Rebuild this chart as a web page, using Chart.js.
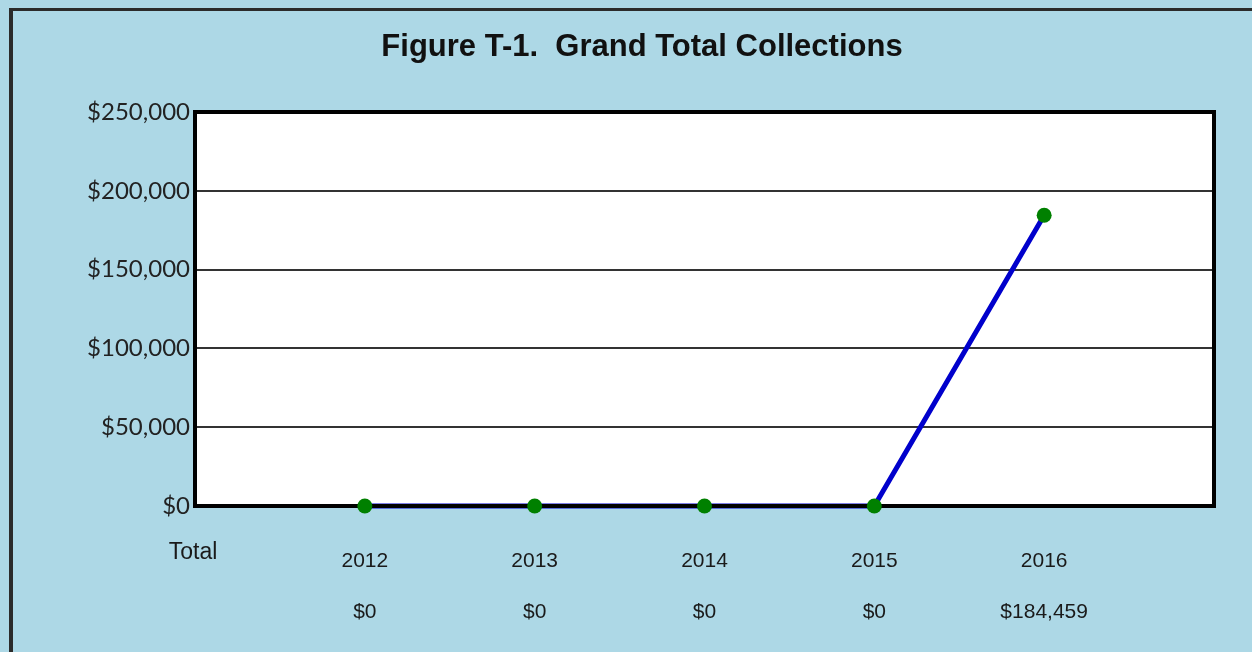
<!DOCTYPE html>
<html>
<head>
<meta charset="utf-8">
<script src="https://cdn.jsdelivr.net/npm/chart.js@4"></script>
<style>
  html, body { margin: 0; padding: 0; background: #add8e6; }
  body { width: 1252px; height: 652px; position: relative; overflow: hidden; }
  #moldura { position: absolute; left: 9px; top: 8px; width: 1300px; height: 700px;
             border-top: 3px solid #2b2b2b; border-left: 4px solid #2b2b2b; box-sizing: border-box; }
  #wrap { position: absolute; left: 0; top: 0; width: 1252px; height: 652px; }
</style>
</head>
<body>
<div id="moldura"></div>
<div id="wrap"><canvas id="grafico"></canvas></div>
<script>
// Dados do grafico
const TITULO = 'Figure T-1.  Grand Total Collections';
const anos = [2012, 2013, 2014, 2015, 2016];
const totais = [0, 0, 0, 0, 184459];
const rotuloLinha = 'Total';
const ticksY = [0, 50000, 100000, 150000, 200000, 250000];

const moeda = (v) => '$' + Number(v).toLocaleString('en-US');

const ARIAL = 'Arial, "Liberation Sans", Helvetica, sans-serif';
const cor = { linha: '#0000cc', ponto: '#008000', grelha: '#333333', texto: '#1a1a1a' };

// Moldura preta grossa a volta da area do grafico (desenhada depois da linha, antes dos pontos)
const molduraArea = {
  id: 'molduraArea',
  afterDatasetDraw(chart, args) {
    if (args.index !== 1) return;
    const { ctx, chartArea: a } = chart;
    ctx.save();
    ctx.strokeStyle = '#000';
    ctx.lineWidth = 4;
    ctx.strokeRect(a.left, a.top, a.right - a.left, a.bottom - a.top);
    ctx.restore();
  },
  beforeDraw(chart) {
    const { ctx, chartArea: a } = chart;
    ctx.save();
    ctx.fillStyle = '#fff';
    ctx.fillRect(a.left, a.top, a.right - a.left, a.bottom - a.top);
    ctx.restore();
  }
};

// Rotulo "Total" da linha de valores por baixo do eixo
const rotuloTotal = {
  id: 'rotuloTotal',
  afterDraw(chart) {
    const { ctx, scales } = chart;
    ctx.save();
    ctx.font = '23px ' + ARIAL;
    ctx.fillStyle = cor.texto;
    ctx.textAlign = 'center';
    ctx.textBaseline = 'middle';
    ctx.fillText(rotuloLinha, scales.x.getPixelForValue(anos[0] - 1) - 2, scales.x.bottom - 99);
    ctx.restore();
  }
};

function desenhar() {
  new Chart(document.getElementById('grafico'), {
    type: 'line',
    data: {
      datasets: [
        { // so os pontos (por cima da moldura)
          data: anos.map((a, i) => ({ x: a, y: totais[i] })),
          showLine: false, pointRadius: 7.5, pointBackgroundColor: cor.ponto,
          pointBorderWidth: 0, clip: false
        },
        { // so a linha
          data: anos.map((a, i) => ({ x: a, y: totais[i] })),
          borderColor: cor.linha, borderWidth: 5, pointRadius: 0, tension: 0, clip: false
        }
      ]
    },
    options: {
      responsive: true,
      maintainAspectRatio: false,
      animation: false,
      layout: { padding: { left: 32, right: 0, top: 0, bottom: 0 } },
      plugins: {
        legend: { display: false },
        tooltip: { enabled: false },
        title: {
          display: true, text: TITULO, color: '#111',
          font: { family: ARIAL, size: 31, weight: 'bold' },
          padding: { top: 28.5, bottom: 46.3 }
        }
      },
      scales: {
        x: {
          type: 'linear', min: anos[0] - 1, max: anos[anos.length - 1] + 1,
          grid: { display: false }, border: { display: false },
          afterBuildTicks: (s) => { s.ticks = anos.map(v => ({ value: v })); },
          ticks: {
            color: cor.texto, padding: 22, maxRotation: 0, autoSkip: false,
            font: { family: ARIAL, size: 21, lineHeight: '51px' },
            callback: (v) => {
              const i = anos.indexOf(v);
              return i < 0 ? '' : [String(v), moeda(totais[i])];
            }
          },
          afterFit: (s) => { s.height = 146; }
        },
        y: {
          min: 0, max: 250000,
          grid: { color: cor.grelha, lineWidth: 2, drawTicks: false }, border: { display: false },
          afterBuildTicks: (s) => { s.ticks = ticksY.map(v => ({ value: v })); },
          ticks: {
            color: '#222', padding: 5,
            font: { family: 'Lato, "Open Sans", sans-serif', size: 24 },
            callback: (v) => moeda(v)
          },
          afterFit: (s) => { s.width = 163; }
        },
        direita: {
          position: 'right', display: true, min: 0, max: 1,
          grid: { display: false }, border: { display: false },
          ticks: { display: false },
          afterFit: (s) => { s.width = 38; }
        }
      }
    },
    plugins: [molduraArea, rotuloTotal]
  });
}

// garantir que as fontes estao prontas antes de desenhar
Promise.all([
  document.fonts.load('bold 31px Arial'),
  document.fonts.load('21px Arial'),
  document.fonts.load('24px Lato')
]).catch(() => {}).then(desenhar);
</script>
</body>
</html>
